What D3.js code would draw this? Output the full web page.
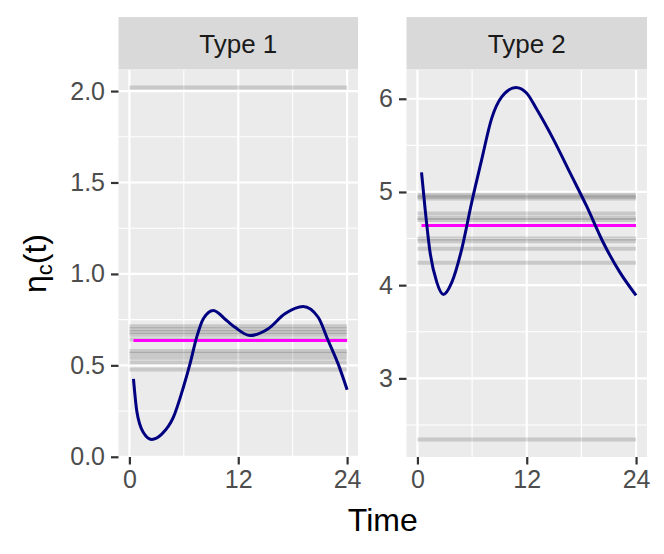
<!DOCTYPE html>
<html>
<head>
<meta charset="utf-8">
<script src="https://cdn.jsdelivr.net/npm/d3@7"></script>
<style>
  html, body { margin: 0; padding: 0; background: #ffffff; }
  svg { display: block; }
</style>
</head>
<body>
<svg id="chart" width="664" height="554"></svg>
<script>
// ---------------- data ----------------
const categories = ["Type 1", "Type 2"];

const timeType1 = [0.45, 0.81, 1.54, 2.47, 3.57, 4.84, 5.95, 6.68, 7.42, 8.15, 9.25, 10.72, 11.64, 13.29, 15.30, 17.14, 19.16, 20.81, 21.91, 23.01, 24.0];
const etaType1  = [0.426, 0.252, 0.133, 0.095, 0.124, 0.215, 0.380, 0.508, 0.654, 0.755, 0.800, 0.745, 0.708, 0.663, 0.700, 0.782, 0.822, 0.763, 0.636, 0.508, 0.367];

const timeType2 = [0.45, 0.84, 1.39, 2.13, 2.85, 3.77, 4.87, 5.96, 7.06, 8.15, 9.25, 10.8, 12.0, 13.08, 14.90, 16.73, 18.56, 20.38, 22.21, 24.0];
const etaType2  = [5.21, 4.82, 4.35, 4.03, 3.90, 4.03, 4.39, 4.89, 5.35, 5.79, 6.02, 6.12, 6.06, 5.89, 5.57, 5.21, 4.85, 4.46, 4.14, 3.89];

// individual (grey) levels
const levelsType1 = [0.477, 0.515, 0.542, 0.564, 0.578, 0.641, 0.668, 0.682, 0.698, 0.714, 2.019];
const levelsType2 = [2.345, 4.24, 4.39, 4.47, 4.50, 4.70, 4.72, 4.77, 4.93, 4.95, 4.97];

// mean level (magenta)
const meanType1 = 0.636;
const meanType2 = 4.64;

const levelSpan = [0, 24];          // grey lines time span
const xTicks = [0, 12, 24];
const xMinorTicks = [6, 18];
const yTicksType1 = [0, 0.5, 1.0, 1.5, 2.0];
const yMinorType1 = [0.25, 0.75, 1.25, 1.75];
const yTicksType2 = [3, 4, 5, 6];
const yMinorType2 = [2.5, 3.5, 4.5, 5.5];

// ---------------- layout ----------------
const svg = d3.select("#chart");
const font = "'Liberation Sans', Arial, Helvetica, sans-serif";
const panelTop = 70, panelBottom = 457;
const stripTop = 17;

const panels = [
  { name: categories[0], x0: 118.5, x1: 358, times: timeType1, eta: etaType1, levels: levelsType1, mean: meanType1,
    yTicks: yTicksType1, yMinor: yMinorType1, fmt: d3.format(".1f") },
  { name: categories[1], x0: 406.5, x1: 647, times: timeType2, eta: etaType2, levels: levelsType2, mean: meanType2,
    yTicks: yTicksType2, yMinor: yMinorType2, fmt: d3.format("d") }
];

function expand(ext, m) { const r = ext[1] - ext[0]; return [ext[0] - r * m, ext[1] + r * m]; }

panels.forEach(p => {
  const xDom = expand(d3.extent(levelSpan.concat(p.times)), 0.05);
  const x = d3.scaleLinear().domain(xDom).range([p.x0, p.x1]);
  const yDom = expand(d3.extent(p.eta.concat(p.levels, [p.mean])), 0.05);
  const y = d3.scaleLinear().domain(yDom).range([panelBottom, panelTop]);

  const g = svg.append("g");

  // strip
  g.append("rect").attr("x", p.x0).attr("y", stripTop).attr("width", p.x1 - p.x0)
    .attr("height", panelTop - stripTop - 0.5).attr("fill", "#d9d9d9");
  g.append("text").attr("x", (p.x0 + p.x1) / 2).attr("y", (stripTop + panelTop) / 2 + 9)
    .attr("text-anchor", "middle").attr("font-family", font).attr("font-size", 26)
    .attr("fill", "#1a1a1a").text(p.name);

  // panel background
  g.append("rect").attr("x", p.x0).attr("y", panelTop).attr("width", p.x1 - p.x0)
    .attr("height", panelBottom - panelTop).attr("fill", "#ebebeb");

  // minor grid
  g.selectAll(".ymin").data(p.yMinor.filter(v => v > yDom[0] && v < yDom[1])).enter().append("line")
    .attr("x1", p.x0).attr("x2", p.x1).attr("y1", d => y(d)).attr("y2", d => y(d))
    .attr("stroke", "#ffffff").attr("stroke-width", 1.1);
  g.selectAll(".xmin").data(xMinorTicks).enter().append("line")
    .attr("y1", panelTop).attr("y2", panelBottom).attr("x1", d => x(d)).attr("x2", d => x(d))
    .attr("stroke", "#ffffff").attr("stroke-width", 1.1);
  // major grid
  g.selectAll(".ymaj").data(p.yTicks).enter().append("line")
    .attr("x1", p.x0).attr("x2", p.x1).attr("y1", d => y(d)).attr("y2", d => y(d))
    .attr("stroke", "#ffffff").attr("stroke-width", 2.2);
  g.selectAll(".xmaj").data(xTicks).enter().append("line")
    .attr("y1", panelTop).attr("y2", panelBottom).attr("x1", d => x(d)).attr("x2", d => x(d))
    .attr("stroke", "#ffffff").attr("stroke-width", 2.2);

  // grey individual levels
  g.selectAll(".lvl").data(p.levels).enter().append("line")
    .attr("x1", x(levelSpan[0])).attr("x2", x(levelSpan[1]))
    .attr("y1", d => y(d)).attr("y2", d => y(d))
    .attr("stroke", "#000000").attr("stroke-opacity", 0.15).attr("stroke-width", 4);

  // magenta mean
  g.append("line")
    .attr("x1", x(p.times[0])).attr("x2", x(p.times[p.times.length - 1]))
    .attr("y1", y(p.mean)).attr("y2", y(p.mean))
    .attr("stroke", "#ff00ff").attr("stroke-width", 3);

  // navy curve
  const pts = p.times.map((t, i) => [t, p.eta[i]]);
  g.append("path").datum(pts)
    .attr("d", d3.line().x(d => x(d[0])).y(d => y(d[1])).curve(d3.curveMonotoneX))
    .attr("fill", "none").attr("stroke", "#000080").attr("stroke-width", 3)
    .attr("stroke-linejoin", "round");

  // y axis
  const yAxis = g.append("g").attr("transform", `translate(${p.x0},0)`)
    .call(d3.axisLeft(y).tickValues(p.yTicks).tickFormat(p.fmt).tickSize(7.5).tickPadding(6));
  yAxis.select(".domain").remove();
  yAxis.selectAll(".tick line").attr("stroke", "#333333").attr("stroke-width", 2.2);
  yAxis.selectAll(".tick text").attr("font-family", font).attr("font-size", 25).attr("fill", "#4d4d4d");

  // x axis
  const xAxis = g.append("g").attr("transform", `translate(0,${panelBottom})`)
    .call(d3.axisBottom(x).tickValues(xTicks).tickFormat(d3.format("d")).tickSize(7.5).tickPadding(6));
  xAxis.select(".domain").remove();
  xAxis.selectAll(".tick line").attr("stroke", "#333333").attr("stroke-width", 2.2);
  xAxis.selectAll(".tick text").attr("font-family", font).attr("font-size", 25).attr("fill", "#4d4d4d");
});

// axis titles
svg.append("text").attr("x", (118.5 + 647) / 2).attr("y", 531)
  .attr("text-anchor", "middle").attr("font-family", font).attr("font-size", 32)
  .attr("fill", "#000000").text("Time");

const yt = svg.append("text").attr("transform", `translate(46,${(panelTop + panelBottom) / 2}) rotate(-90)`)
  .attr("text-anchor", "middle").attr("font-family", font).attr("font-size", 32).attr("fill", "#000000");
yt.append("tspan").text("η");
yt.append("tspan").attr("font-size", 22).attr("dy", 6).text("c");
yt.append("tspan").attr("dy", -6).text("(t)");
</script>
</body>
</html>
